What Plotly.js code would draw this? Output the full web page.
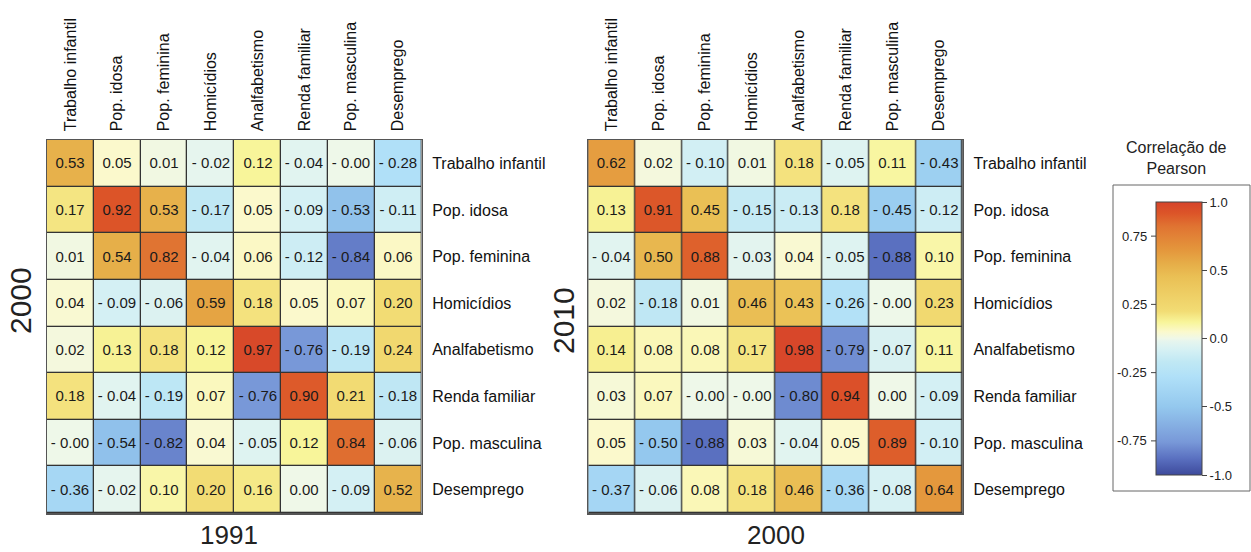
<!DOCTYPE html>
<html>
<head>
<meta charset="utf-8">
<script src="https://cdn.plot.ly/plotly-3.0.1.min.js"></script>
<style>html,body{margin:0;padding:0;background:#fff;}#chart{width:1251px;height:552px;}</style>
</head>
<body>
<div id="chart"></div>
<script>
// ---- data ----
const variables = ["Trabalho infantil","Pop. idosa","Pop. feminina","Homicídios","Analfabetismo","Renda familiar","Pop. masculina","Desemprego"];

// rows: 2000 variables (top to bottom); columns: 1991 variables
const corr1991vs2000 = [
  [0.53, 0.05, 0.01, -0.02, 0.12, -0.04, -0.003, -0.28],
  [0.17, 0.92, 0.53, -0.17, 0.05, -0.09, -0.53, -0.11],
  [0.01, 0.54, 0.82, -0.04, 0.06, -0.12, -0.84, 0.06],
  [0.04, -0.09, -0.06, 0.59, 0.18, 0.05, 0.07, 0.20],
  [0.02, 0.13, 0.18, 0.12, 0.97, -0.76, -0.19, 0.24],
  [0.18, -0.04, -0.19, 0.07, -0.76, 0.90, 0.21, -0.18],
  [-0.003, -0.54, -0.82, 0.04, -0.05, 0.12, 0.84, -0.06],
  [-0.36, -0.02, 0.10, 0.20, 0.16, 0.00, -0.09, 0.52]
];

// rows: 2010 variables; columns: 2000 variables
const corr2000vs2010 = [
  [0.62, 0.02, -0.10, 0.01, 0.18, -0.05, 0.11, -0.43],
  [0.13, 0.91, 0.45, -0.15, -0.13, 0.18, -0.45, -0.12],
  [-0.04, 0.50, 0.88, -0.03, 0.04, -0.05, -0.88, 0.10],
  [0.02, -0.18, 0.01, 0.46, 0.43, -0.26, -0.003, 0.23],
  [0.14, 0.08, 0.08, 0.17, 0.98, -0.79, -0.07, 0.11],
  [0.03, 0.07, -0.003, -0.003, -0.80, 0.94, 0.00, -0.09],
  [0.05, -0.50, -0.88, 0.03, -0.04, 0.05, 0.89, -0.10],
  [-0.37, -0.06, 0.08, 0.18, 0.46, -0.36, -0.08, 0.64]
];

const xTitles = ["1991", "2000"];
const yTitles = ["2000", "2010"];
const cbTitle = "Correlação de<br>Pearson";
const cbRightTicks = [-1.0, -0.5, 0.0, 0.5, 1.0];
const cbLeftTicks = [-0.75, -0.25, 0.25, 0.75];

// ---- helpers ----
const W = 1251, H = 552;
const px = v => v / W;
const py = v => 1 - v / H;
function fmt(v) {
  const s = Math.abs(v).toFixed(2);
  return (v < 0) ? "- " + s : s;
}
const textOf = m => m.map(r => r.map(fmt));

const FONT = "Liberation Sans, Arial, Helvetica, sans-serif";

const colorscale = [
  [(-1.00 + 1) / 2, "#3d4a9c"],
  [(-0.88 + 1) / 2, "#5a70c0"],
  [(-0.76 + 1) / 2, "#7898d8"],
  [(-0.50 + 1) / 2, "#94c8ee"],
  [(-0.28 + 1) / 2, "#b0e0f8"],
  [(-0.17 + 1) / 2, "#c0e8f4"],
  [(-0.09 + 1) / 2, "#d4f0f4"],
  [(-0.02 + 1) / 2, "#e6f5ee"],
  [(0.00 + 1) / 2, "#eff8e8"],
  [(0.05 + 1) / 2, "#fbf9cc"],
  [(0.12 + 1) / 2, "#f8f59a"],
  [(0.20 + 1) / 2, "#f2dc74"],
  [(0.45 + 1) / 2, "#eac055"],
  [(0.55 + 1) / 2, "#e6ad48"],
  [(0.65 + 1) / 2, "#e4963c"],
  [(0.82 + 1) / 2, "#e07432"],
  [(0.92 + 1) / 2, "#dc5428"],
  [(1.00 + 1) / 2, "#d6432a"]
];

// geometry (pixels)
const plotTop = 140, plotBot = 513;
const left = [47, 421.5], right = [588.3, 962.7];
const cbX = 1156, cbTop = 202, cbBot = 475, cbThick = 46;
const cbY = v => cbBot - (v + 1) / 2 * (cbBot - cbTop);

const common = {
  type: "heatmap",
  x: variables, y: variables,
  coloraxis: "coloraxis",
  xgap: 1.3, ygap: 1.3,
  texttemplate: "%{text}",
  textfont: {family: FONT, size: 15, color: "#1a1a1a"},
  hoverinfo: "skip"
};

const traces = [
  Object.assign({}, common, {z: corr1991vs2000, text: textOf(corr1991vs2000), xaxis: "x", yaxis: "y"}),
  Object.assign({}, common, {z: corr2000vs2010, text: textOf(corr2000vs2010), xaxis: "x2", yaxis: "y2"})
];

function xax(dom, anchor) {
  return {
    domain: [px(dom[0]), px(dom[1])], anchor: anchor, side: "top",
    tickangle: -90, ticks: "", showgrid: false, zeroline: false,
    showline: true, mirror: true, linecolor: "#555", linewidth: 1.5,
    tickfont: {family: FONT, size: 16, color: "#111"}, ticklabelstandoff: 4,
    fixedrange: true
  };
}
function yax(anchor) {
  return {
    domain: [py(plotBot), py(plotTop)], anchor: anchor, side: "right",
    autorange: "reversed", ticks: "", showgrid: false, zeroline: false,
    showline: true, mirror: true, linecolor: "#555", linewidth: 1.5,
    tickfont: {family: FONT, size: 16, color: "#111"}, ticklabelstandoff: 6,
    fixedrange: true
  };
}

const annotations = [
  {text: xTitles[0], x: px(229), y: py(535), font: {family: FONT, size: 26, color: "#222"}},
  {text: xTitles[1], x: px(776), y: py(535), font: {family: FONT, size: 26, color: "#222"}},
  {text: yTitles[0], x: px(20), y: py(301), textangle: -90, font: {family: FONT, size: 30, color: "#222"}},
  {text: yTitles[1], x: px(563), y: py(321), textangle: -90, font: {family: FONT, size: 30, color: "#222"}},
  {text: cbTitle, x: px(1176), y: py(158), font: {family: FONT, size: 16, color: "#222"}}
].map(a => Object.assign({xref: "paper", yref: "paper", showarrow: false, xanchor: "center", yanchor: "middle"}, a));

cbLeftTicks.forEach(v => {
  annotations.push({xref: "paper", yref: "paper", showarrow: false, xanchor: "right", yanchor: "middle",
    x: px(cbX - 7), y: py(cbY(v)), text: v.toFixed(2), font: {family: FONT, size: 13, color: "#222"}});
});

const shapes = [
  {type: "rect", xref: "paper", yref: "paper", x0: px(1113), x1: px(1250), y0: py(491), y1: py(185),
   line: {color: "#666", width: 1}, fillcolor: "rgba(0,0,0,0)"}
];
cbLeftTicks.forEach(v => {
  shapes.push({type: "line", xref: "paper", yref: "paper", x0: px(cbX - 5), x1: px(cbX), y0: py(cbY(v)), y1: py(cbY(v)),
    line: {color: "#444", width: 1}});
});

const layout = {
  width: W, height: H, autosize: false,
  margin: {l: 0, r: 0, t: 0, b: 0, pad: 0},
  paper_bgcolor: "#fff", plot_bgcolor: "#333",
  font: {family: FONT, color: "#222"},
  showlegend: false,
  xaxis: xax(left, "y"), yaxis: yax("x"),
  xaxis2: xax(right, "y2"), yaxis2: yax("x2"),
  coloraxis: {
    colorscale: colorscale, cmin: -1, cmax: 1,
    colorbar: {
      x: px(cbX), xanchor: "left", xpad: 0,
      y: py((cbTop + cbBot) / 2), yanchor: "middle", ypad: 0,
      len: cbBot - cbTop, lenmode: "pixels",
      thickness: cbThick, thicknessmode: "pixels",
      outlinewidth: 1, outlinecolor: "#444",
      ticks: "outside", ticklen: 5, tickcolor: "#444",
      tickvals: cbRightTicks, ticktext: cbRightTicks.map(v => v.toFixed(1)),
      tickfont: {family: FONT, size: 13, color: "#222"}
    }
  },
  annotations: annotations,
  shapes: shapes
};

Plotly.newPlot("chart", traces, layout, {displayModeBar: false, staticPlot: true});
</script>
</body>
</html>
